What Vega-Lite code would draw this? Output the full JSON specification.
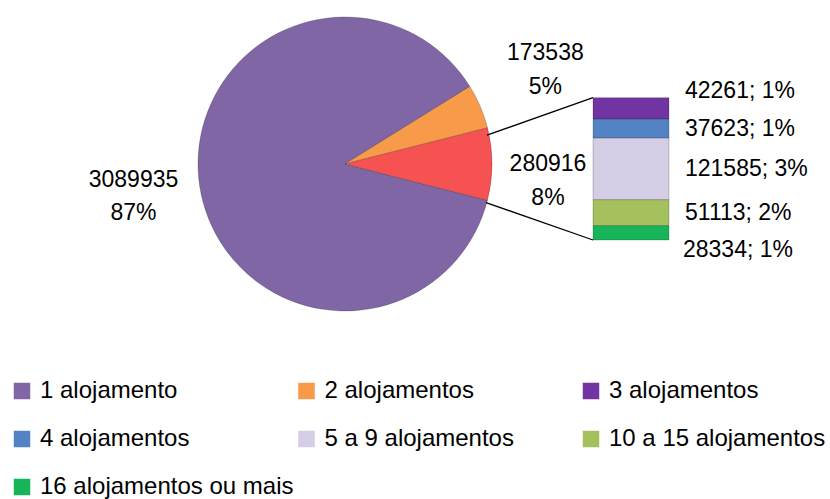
{
  "$schema": "https://vega.github.io/schema/vega-lite/v6.json",
  "autosize": "none",
  "padding": {"left": 0, "top": 0, "right": 140, "bottom": 171},
  "width": 690,
  "height": 328,
  "background": "white",
  "config": {"view": {"stroke": null}, "font": "Liberation Sans"},
  "datasets": {
    "pizza": [
      {"categoria": "1 alojamento", "valor": 3089935, "pct": 87},
      {"categoria": "2 alojamentos", "valor": 173538, "pct": 5},
      {"categoria": "Outros", "valor": 280916, "pct": 8}
    ],
    "barra": [
      {"categoria": "3 alojamentos", "valor": 42261, "pct": 1},
      {"categoria": "4 alojamentos", "valor": 37623, "pct": 1},
      {"categoria": "5 a 9 alojamentos", "valor": 121585, "pct": 3},
      {"categoria": "10 a 15 alojamentos", "valor": 51113, "pct": 2},
      {"categoria": "16 alojamentos ou mais", "valor": 28334, "pct": 1}
    ]
  },
  "layer": [
    {
      "data": {"name": "pizza"},
      "mark": {"type": "arc", "outerRadius": 147, "stroke": "#000000", "strokeOpacity": 0.2, "strokeWidth": 1},
      "encoding": {
        "theta": {"field": "valor", "type": "quantitative", "stack": true, "scale": {"range": [1.8204, 8.1036]}},
        "order": {"field": "categoria", "sort": "ascending"},
        "color": {
          "field": "categoria", "type": "nominal",
          "scale": {
            "domain": ["1 alojamento", "2 alojamentos", "3 alojamentos", "4 alojamentos", "5 a 9 alojamentos", "10 a 15 alojamentos", "16 alojamentos ou mais", "Outros"],
            "range": ["#8166A6", "#F79A4A", "#7334A3", "#5283C2", "#D5CDE5", "#A4C15E", "#17B45A", "#F75252"]
          },
          "legend": {
            "orient": "none", "legendX": 10, "legendY": 379, "title": null, "direction": "horizontal",
            "columns": 3, "columnPadding": 0.5, "rowPadding": 24, "gridAlign": "all",
            "symbolType": "square", "symbolSize": 272, "symbolStrokeWidth": 0, "symbolOpacity": 1,
            "labelFont": "Liberation Sans", "labelFontSize": 24, "labelColor": "black", "labelLimit": 400, "labelOffset": 6, "padding": 0,
            "values": ["1 alojamento", "2 alojamentos", "3 alojamentos", "4 alojamentos", "5 a 9 alojamentos", "10 a 15 alojamentos", "16 alojamentos ou mais"]
          }
        }
      }
    },
    {
      "data": {"name": "pizza"},
      "transform": [
        {"window": [{"op": "sum", "field": "valor", "as": "acum"}], "sort": [{"field": "categoria"}]},
        {"calculate": "datum.acum - datum.valor / 2", "as": "meio"},
        {"calculate": "datum.valor + '\\n' + datum.pct + '%'", "as": "rotulo"},
        {"filter": "datum.categoria === '1 alojamento'"}
      ],
      "mark": {"type": "text", "radius": 214, "dy": -17, "fontSize": 23, "lineBreak": "\n", "lineHeight": 33.5, "color": "black"},
      "encoding": {
        "theta": {"field": "meio", "type": "quantitative", "stack": null},
        "text": {"field": "rotulo", "type": "nominal"}
      }
    },
    {
      "data": {"name": "pizza"},
      "transform": [
        {"window": [{"op": "sum", "field": "valor", "as": "acum"}], "sort": [{"field": "categoria"}]},
        {"calculate": "datum.acum - datum.valor / 2", "as": "meio"},
        {"calculate": "datum.valor + '\\n' + datum.pct + '%'", "as": "rotulo"},
        {"filter": "datum.categoria === '2 alojamentos'"}
      ],
      "mark": {"type": "text", "radius": 221, "dx": -3, "dy": -24, "fontSize": 23, "lineBreak": "\n", "lineHeight": 33.5, "color": "black"},
      "encoding": {
        "theta": {"field": "meio", "type": "quantitative", "stack": null},
        "text": {"field": "rotulo", "type": "nominal"}
      }
    },
    {
      "data": {"name": "pizza"},
      "transform": [
        {"window": [{"op": "sum", "field": "valor", "as": "acum"}], "sort": [{"field": "categoria"}]},
        {"calculate": "datum.acum - datum.valor / 2", "as": "meio"},
        {"calculate": "datum.valor + '\\n' + datum.pct + '%'", "as": "rotulo"},
        {"filter": "datum.categoria === 'Outros'"}
      ],
      "mark": {"type": "text", "radius": 203, "dy": 0, "fontSize": 23, "lineBreak": "\n", "lineHeight": 33.5, "color": "black"},
      "encoding": {
        "theta": {"field": "meio", "type": "quantitative", "stack": null},
        "text": {"field": "rotulo", "type": "nominal"}
      }
    },
    {
      "data": {"name": "barra"},
      "transform": [
        {"calculate": "indexof(['16 alojamentos ou mais', '10 a 15 alojamentos', '5 a 9 alojamentos', '4 alojamentos', '3 alojamentos'], datum.categoria)", "as": "ordem"},
        {"window": [{"op": "sum", "field": "valor", "as": "topo"}], "sort": [{"field": "ordem"}]},
        {"calculate": "datum.topo - datum.valor", "as": "base"}
      ],
      "mark": {"type": "bar", "stroke": "#000000", "strokeOpacity": 0.2, "strokeWidth": 1},
      "encoding": {
        "x": {"datum": 0, "type": "quantitative", "scale": {"domain": [0, 1], "range": [593, 669]}, "axis": null},
        "x2": {"datum": 1},
        "y": {"field": "topo", "type": "quantitative", "scale": {"domain": [0, 280916], "range": [240, 88]}, "axis": null},
        "y2": {"field": "base"},
        "color": {"field": "categoria", "type": "nominal"}
      }
    },
    {
      "data": {"name": "barra"},
      "transform": [
        {"calculate": "indexof(['16 alojamentos ou mais', '10 a 15 alojamentos', '5 a 9 alojamentos', '4 alojamentos', '3 alojamentos'], datum.categoria)", "as": "ordem"},
        {"window": [{"op": "sum", "field": "valor", "as": "topo"}], "sort": [{"field": "ordem"}]},
        {"calculate": "datum.topo - datum.valor / 2", "as": "meio"},
        {"calculate": "datum.valor + '; ' + datum.pct + '%'", "as": "rotulo"},
        {"filter": "datum.ordem >= 1 && datum.ordem <= 3"}
      ],
      "mark": {"type": "text", "align": "left", "dx": 16, "fontSize": 23, "color": "black"},
      "encoding": {
        "x": {"datum": 1, "type": "quantitative"},
        "y": {"field": "meio", "type": "quantitative"},
        "text": {"field": "rotulo", "type": "nominal"}
      }
    },
    {
      "data": {"name": "barra"},
      "transform": [
        {"calculate": "indexof(['16 alojamentos ou mais', '10 a 15 alojamentos', '5 a 9 alojamentos', '4 alojamentos', '3 alojamentos'], datum.categoria)", "as": "ordem"},
        {"window": [{"op": "sum", "field": "valor", "as": "topo"}], "sort": [{"field": "ordem"}]},
        {"calculate": "datum.topo - datum.valor / 2", "as": "meio"},
        {"calculate": "datum.valor + '; ' + datum.pct + '%'", "as": "rotulo"},
        {"filter": "datum.ordem === 4"}
      ],
      "mark": {"type": "text", "align": "left", "dx": 16, "dy": -17, "fontSize": 23, "color": "black"},
      "encoding": {
        "x": {"datum": 1, "type": "quantitative"},
        "y": {"field": "meio", "type": "quantitative"},
        "text": {"field": "rotulo", "type": "nominal"}
      }
    },
    {
      "data": {"name": "barra"},
      "transform": [
        {"calculate": "indexof(['16 alojamentos ou mais', '10 a 15 alojamentos', '5 a 9 alojamentos', '4 alojamentos', '3 alojamentos'], datum.categoria)", "as": "ordem"},
        {"window": [{"op": "sum", "field": "valor", "as": "topo"}], "sort": [{"field": "ordem"}]},
        {"calculate": "datum.topo - datum.valor / 2", "as": "meio"},
        {"calculate": "datum.valor + '; ' + datum.pct + '%'", "as": "rotulo"},
        {"filter": "datum.ordem === 0"}
      ],
      "mark": {"type": "text", "align": "left", "dx": 14, "dy": 17, "fontSize": 23, "color": "black"},
      "encoding": {
        "x": {"datum": 1, "type": "quantitative"},
        "y": {"field": "meio", "type": "quantitative"},
        "text": {"field": "rotulo", "type": "nominal"}
      }
    },
    {
      "data": {"values": [{}]},
      "mark": {"type": "rule", "color": "black", "strokeWidth": 1.3},
      "encoding": {
        "x": {"datum": -1.3947, "type": "quantitative"},
        "y": {"datum": 206991, "type": "quantitative"},
        "x2": {"datum": 0},
        "y2": {"datum": 280916}
      }
    },
    {
      "data": {"values": [{}]},
      "mark": {"type": "rule", "color": "black", "strokeWidth": 1.3},
      "encoding": {
        "x": {"datum": -1.408, "type": "quantitative"},
        "y": {"datum": 73925, "type": "quantitative"},
        "x2": {"datum": 0},
        "y2": {"datum": 0}
      }
    }
  ]
}
